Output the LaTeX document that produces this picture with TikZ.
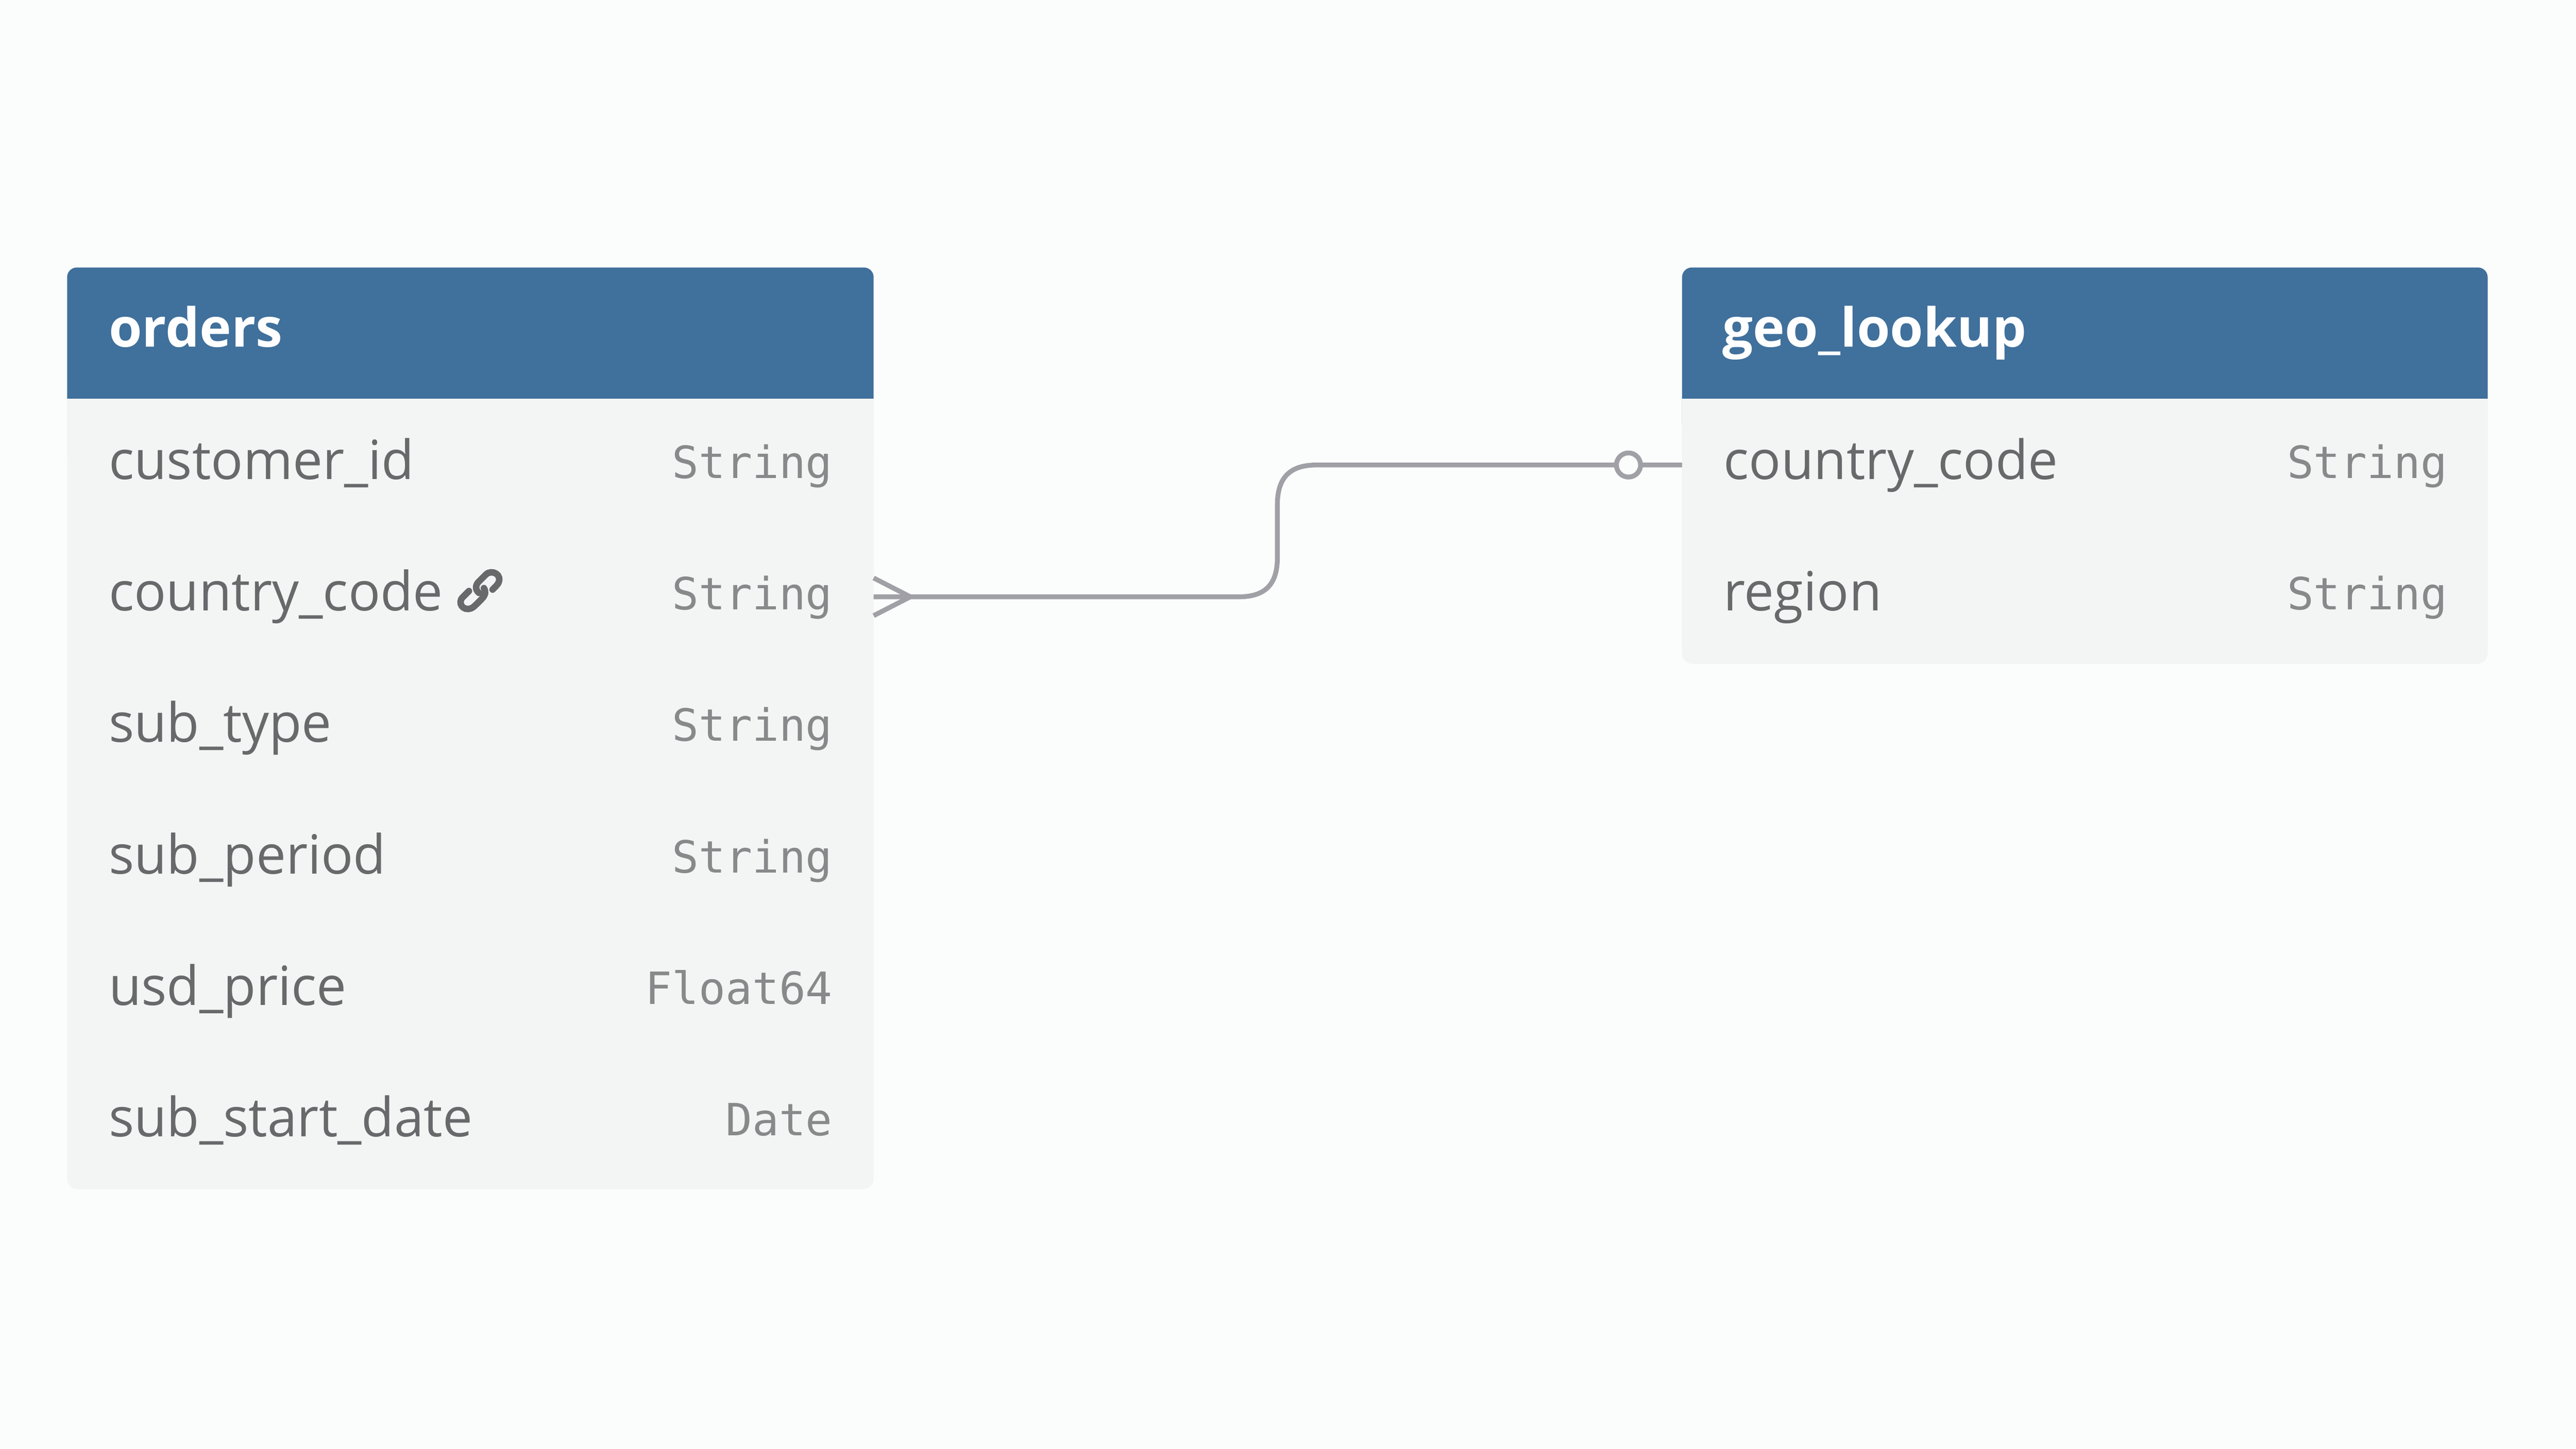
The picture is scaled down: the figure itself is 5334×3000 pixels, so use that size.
\documentclass[tikz,border=0pt]{standalone}
\usepackage{fontspec}
\setmainfont{Open Sans}
\newfontfamily\fieldfont[FakeStretch=0.985]{Open Sans}
\newfontfamily\typefont{DejaVu Sans Mono}
\definecolor{bgc}{HTML}{FBFDFC}
\definecolor{headc}{HTML}{40709C}
\definecolor{bodyc}{HTML}{F3F5F4}
\definecolor{textc}{HTML}{67696B}
\definecolor{typec}{HTML}{88898A}
\definecolor{linec}{HTML}{A1A0A6}
\tikzset{
  x=1pt,y=-1pt,
  title/.style={anchor=base west,inner sep=0pt,text=white,font=\fontsize{111.5}{130}\selectfont\bfseries},
  field/.style={anchor=base west,inner sep=0pt,text=textc,font=\fontsize{112}{130}\fieldfont},
  dtype/.style={anchor=base east,inner sep=0pt,text=typec,font=\fontsize{92}{110}\typefont},
  conn/.style={draw=linec,line width=10pt},
  linkicon/.style={draw=textc,line width=13.5pt,line cap=round}
}
\begin{document}
\begin{tikzpicture}
\useasboundingbox (0,0) rectangle (5334,3000);
\fill[bgc] (0,0) rectangle (5334,3000);
% orders table
\fill[bodyc,rounded corners=22pt] (139,800) rectangle (1809,2463);
\fill[headc,rounded corners=20pt] (139,900) -- (139,554) -- (1809,554) -- (1809,900) -- cycle;
\fill[bodyc] (139,826) rectangle (1809,950);
% geo table
\fill[bodyc,rounded corners=22pt] (3483,800) rectangle (5151,1375);
\fill[headc,rounded corners=20pt] (3483,900) -- (3483,554) -- (5151,554) -- (5151,900) -- cycle;
\fill[bodyc] (3483,826) rectangle (5151,950);
\node[title] (ordersTitle) at (225,718) {orders};
\node[field] (o1) at (225,993) {customer\_id};
\node[field] (o2) at (225,1265) {country\_code};
\node[field] (o3) at (225,1537) {sub\_type};
\node[field] (o4) at (225,1810) {sub\_period};
\node[field] (o5) at (225,2082) {usd\_price};
\node[field] (o6) at (225,2354) {sub\_start\_date};
\node[dtype] (t1) at (1724,991) {String};
\node[dtype] (t2) at (1724,1263) {String};
\node[dtype] (t3) at (1724,1535) {String};
\node[dtype] (t4) at (1724,1808) {String};
\node[dtype] (t5) at (1724,2080) {Float64};
\node[dtype] (t6) at (1724,2352) {Date};
\node[title] (geoTitle) at (3567,718) {geo\_lookup};
\node[field] (g1) at (3569,993) {country\_code};
\node[field] (g2) at (3569,1265) {region};
\node[dtype] (u1) at (5068,991) {String};
\node[dtype] (u2) at (5068,1263) {String};
% link icon
\draw[linkicon] (971,1224) .. controls (963,1232) and (960,1235) .. (958,1237) .. controls (947,1248) and (958,1266) .. (975,1260) .. controls (980,1258) and (982,1256) .. (997,1241) .. controls (1006,1232) and (1006,1225) .. (1002,1218);
\draw[linkicon] (992,1228) .. controls (984,1222) and (984,1212) .. (991,1205) .. controls (996,1200) and (1002,1194) .. (1006,1190) .. controls (1018,1178) and (1042,1190) .. (1031,1209) .. controls (1029,1212) and (1024,1217) .. (1020,1221);
% connector
\coordinate (fromOrders) at (1809,1236);
\coordinate (toGeo) at (3483,963);
\coordinate (crowTop) at (1809,1197);
\coordinate (crowBot) at (1809,1275);
\coordinate (crowJoin) at (1885,1236);
\draw[conn] (fromOrders) -- (2565,1236) .. controls (2620,1236) and (2645,1210) .. (2645,1155) -- (2645,1045) .. controls (2645,990) and (2670,963) .. (2726,963) -- (toGeo);
\draw[conn] (crowTop) -- (crowJoin) -- (crowBot);
\node[circle,draw=linec,fill=bgc,line width=10pt,minimum size=50pt,inner sep=0pt] (opt) at (3372,963) {};
\end{tikzpicture}
\end{document}
